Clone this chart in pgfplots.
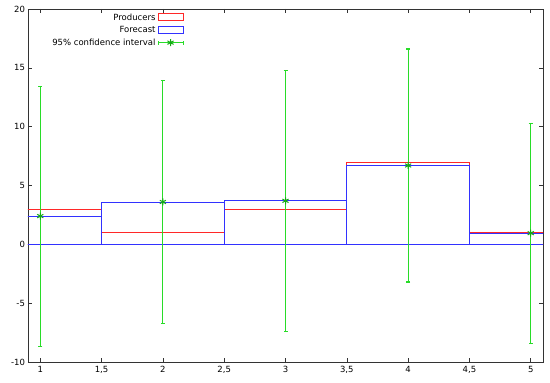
\documentclass[border=0pt]{standalone}
\usepackage{fontspec}
\setmainfont{DejaVu Sans}
\usepackage{pgfplots}
\pgfplotsset{compat=1.18}
\definecolor{gred}{RGB}{255,40,40}
\definecolor{gblue}{RGB}{50,50,255}
\definecolor{ggreen}{RGB}{40,220,40}
\definecolor{dgreen}{RGB}{20,170,20}
\pgfplotsset{
  redlegend/.style={legend image code/.code={\draw[gred,line width=1pt] (0pt,-3.5pt) rectangle (25pt,3.5pt);}},
  bluelegend/.style={legend image code/.code={\draw[gblue,line width=1pt] (0pt,-3.5pt) rectangle (25pt,3.5pt);}},
  errlegend/.style={legend image code/.code={%
    \draw[ggreen,line width=1pt] (0pt,0pt) -- (25pt,0pt);
    \draw[ggreen,line width=1pt] (0pt,-2pt) -- (0pt,2pt);
    \draw[ggreen,line width=1pt] (25pt,-2pt) -- (25pt,2pt);
    \path[draw=dgreen,line width=1pt, mark=asterisk, mark size=3.5pt] plot coordinates {(12.5pt,0pt)};}},
}
\begin{document}
\fontsize{8.5}{10}\selectfont
\begin{tikzpicture}
\begin{axis}[name=ax, scale only axis, width=515pt, height=353pt,
  xmin=0.9, xmax=5.1, ymin=-10, ymax=20,
  xtick={1,1.5,...,5}, xticklabels={1,{1,5},2,{2,5},3,{3,5},4,{4,5},5},
  ytick={-10,-5,...,20},
  /pgf/number format/assume math mode=true,
  tick align=inside, major tick length=4pt,
  axis line style={black!80, line width=0.8pt},
  tick style={black!80, line width=0.6pt},
  ticklabel style={font=\fontsize{8.5}{10}\selectfont},
  xticklabel style={yshift=-1pt},
  legend style={at={(axis cs:2.17,19.8)}, anchor=north east, draw=none, fill=none,
    inner sep=0pt, row sep=1pt, font=\fontsize{8.5}{10}\selectfont},
  legend cell align=right,
  legend plot pos=right,
]
\addplot[ybar, bar width=1, bar shift=0pt, draw=gred, fill=none, line width=0.9pt, redlegend]
  coordinates {(1,3.0) (2,1.0) (3,3.0) (4,7.0) (5,1.0)};
\addlegendentry{Producers}
\addplot[ybar, bar width=1, bar shift=0pt, draw=gblue, fill=none, line width=0.9pt, bluelegend]
  coordinates {(1,2.4) (2,3.6) (3,3.7) (4,6.7) (5,0.95)};
\addlegendentry{Forecast}
\addplot[only marks, color=dgreen, mark=asterisk, mark size=3.5pt, line width=1pt, errlegend,
  error bars/.cd, y dir=both, y explicit, error mark=-,
  error bar style={line width=1.1pt, color=ggreen},
  error mark options={rotate=90, line width=1.1pt, color=ggreen, mark size=2pt}]
  table[x=x, y=y, y error=e] {
  x y e
  1 2.4 11.05
  2 3.6 10.3
  3 3.7 11.1
  4 6.7 9.9
  5 0.95 9.35
  };
\addlegendentry{95\% confidence interval}
\end{axis}
\path ([shift={(-28pt,-20pt)}]ax.south west) rectangle ([shift={(7pt,9pt)}]ax.north east);
\end{tikzpicture}
\end{document}
